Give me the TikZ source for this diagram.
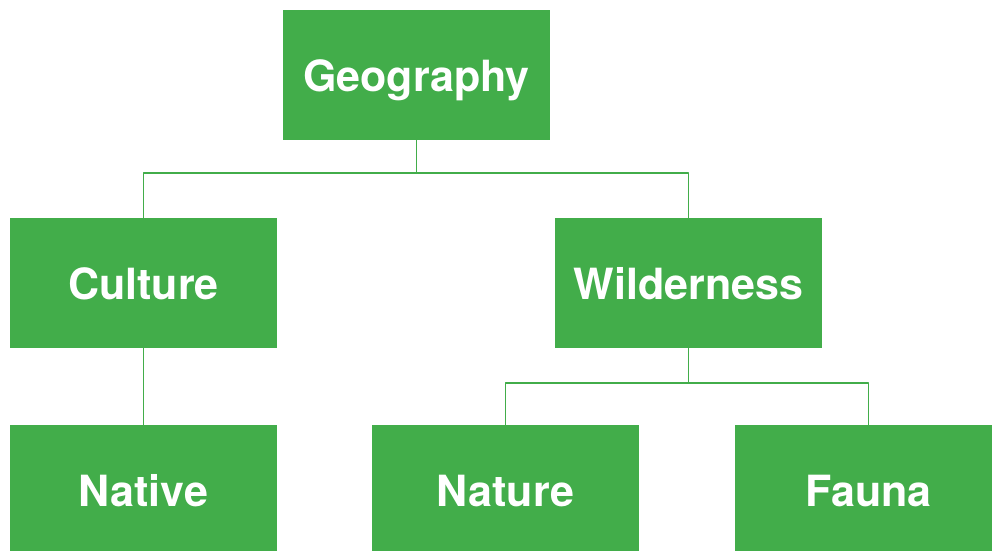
\documentclass[tikz,border=0pt]{standalone}
\usepackage{fontspec}
\setmainfont{TeX Gyre Heros}
\definecolor{leaf}{HTML}{42AD4A}
\begin{document}
\begin{tikzpicture}[x=1pt,y=-1pt, line join = round,
	topic/.style={fill=leaf, text=white, inner sep=0pt, minimum width=267pt, minimum height=130pt, text height=32pt, text depth=0pt, font=\fontsize{43}{43}\selectfont\bfseries},
	link/.style={draw=leaf, line width=1.8pt}]
			\clip (0,0) rectangle (992,550);
			\fill[white] (0,0) rectangle (992,550);
			\node[topic] (geo) at (416.5,75) {Geography};
			\node[topic] (cult) at (143.5,283) {Culture};
			\node[topic] (wild) at (688.5,283) {Wilderness};
			\node[topic] (nat) at (143.5,490) {Native};
			\node[topic] (natu) at (505.5,490) {Nature};
			\node[topic] (fau) at (868.5,490) {Fauna};
			\draw[link] (geo.south)--++(0,33)-|(cult.north) (geo.south)--++(0,33)-|(wild.north);
			\draw[link] (cult.south)--(nat.north);
			\draw[link] (wild.south)--++(0,35)-|(natu.north) (wild.south)--++(0,35)-|(fau.north);
		\end{tikzpicture}
\end{document}
